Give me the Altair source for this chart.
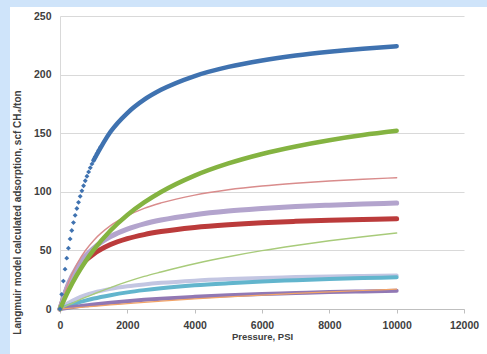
import altair as alt
import pandas as pd

# Pressure grid (psi) shared by the adsorption curves
pressure = [0, 250, 500, 750, 1000, 1500, 2000, 2500, 3000, 4000, 5000,
            6000, 7000, 8000, 9000, 10000]

# Calculated adsorption, scf CH4/ton, one list per sample
blue = [0, 51.9, 85.7, 109.4, 126.9, 151.2, 167.2, 178.6, 187.0, 198.8,
        206.6, 212.1, 216.3, 219.5, 222.1, 224.2]
green = [0, 15.6, 28.9, 40.4, 50.4, 67.0, 80.2, 90.9, 99.8, 113.8, 124.2,
         132.3, 138.7, 144.0, 148.4, 152.0]
pink = [0, 22.6, 38.2, 49.7, 58.5, 71.1, 79.6, 85.9, 90.5, 97.2, 101.7,
        104.9, 107.3, 109.2, 110.7, 112.0]
lilac = [0, 21.5, 35.4, 45.0, 52.0, 61.7, 68.1, 72.6, 75.9, 80.5, 83.6,
         85.7, 87.4, 88.6, 89.6, 90.4]
red = [0, 20.5, 32.8, 41.1, 47.0, 55.0, 60.0, 63.5, 66.1, 69.6, 71.9,
       73.6, 74.8, 75.7, 76.4, 77.0]
lime = [0, 3.5, 6.8, 9.9, 12.8, 18.3, 23.3, 27.8, 31.6, 38.6, 44.6, 49.8,
        54.2, 58.2, 61.7, 64.8]
lavender = [0, 5.2, 9.0, 11.8, 14.0, 17.2, 19.4, 21.0, 22.3, 24.2, 25.5,
            26.5, 27.2, 27.8, 28.2, 28.6]
cyan = [0, 2.7, 5.1, 7.1, 8.9, 11.8, 14.2, 16.1, 17.7, 20.2, 22.0, 23.5,
        24.6, 25.6, 26.4, 27.0]
purple = [0, 1.1, 2.1, 3.1, 3.9, 5.4, 6.7, 7.8, 8.8, 10.4, 11.7, 12.8,
          13.6, 14.4, 15.0, 15.6]
orange = [0, 0.5, 1.1, 1.7, 2.3, 3.5, 4.6, 5.7, 6.7, 8.6, 10.3, 11.9,
          13.3, 14.6, 15.8, 16.9]

# Individual diamond markers of the first sample at low pressure
blue_low_p = [0, 50, 100, 150, 200, 250, 300, 350, 400, 450, 500, 550, 600,
              650, 700, 750, 800, 850, 900, 950, 1000, 1050, 1100, 1150, 1200]
blue_low_v = [0, 12.5, 23.8, 34.0, 43.4, 51.9, 59.8, 67.0, 73.7, 79.9, 85.7,
              91.0, 96.1, 100.8, 105.2, 109.4, 113.3, 117.0, 120.5, 123.8,
              126.9, 129.9, 132.7, 135.5, 138.0]

x_ticks = [0, 2000, 4000, 6000, 8000, 10000, 12000]
y_ticks = [0, 50, 100, 150, 200, 250]

FONT = "Liberation Sans"
TEXT = "#404040"

x_enc = alt.X(
    "pressure:Q",
    scale=alt.Scale(domain=[0, 12000], nice=False),
    axis=alt.Axis(values=x_ticks, format="d", labelFlush=False,
                  title="Pressure, PSI", grid=False,
                  domainColor="#bfbfbf", tickColor="#bfbfbf", tickSize=4,
                  labelFont=FONT, labelFontSize=10.5, labelFontWeight="bold",
                  labelColor=TEXT, labelPadding=7, titleFont=FONT,
                  titleFontSize=9.5, titleFontWeight="bold", titleColor=TEXT,
                  titlePadding=1),
)
y_enc = alt.Y(
    "value:Q",
    scale=alt.Scale(domain=[0, 250], nice=False),
    axis=alt.Axis(values=y_ticks, labelFlush=False,
                  title="Langmuir model calculated adsorption, scf CH₄/ton",
                  grid=True, gridColor="#d9d9d9", domainColor="#d9d9d9",
                  ticks=False, labelFont=FONT, labelFontSize=10.5,
                  labelFontWeight="bold", labelColor=TEXT, labelPadding=9,
                  titleFont=FONT, titleFontSize=10, titleFontWeight="bold",
                  titleColor=TEXT, titleX=-38, titleY=196),
)

# (values, colour, stroke width) in drawing order
series = [
    (lavender, "#c3c6e2", 4.0),
    (cyan, "#62b5cd", 4.0),
    (purple, "#9178b4", 4.0),
    (orange, "#f2a468", 1.2),
    (lime, "#a8cb7a", 1.4),
    (red, "#bb3b3b", 5.0),
    (lilac, "#b3a4cd", 5.0),
    (pink, "#d98c8c", 1.4),
    (green, "#84b341", 4.5),
]

layers = []

# Blue frame strips along the left and top edges
frame = pd.DataFrame({"k": [0]})
layers.append(alt.Chart(frame).mark_rect(color="#cfe4fa").encode(
    x=alt.value(-60), x2=alt.value(-50), y=alt.value(-16), y2=alt.value(338)))
layers.append(alt.Chart(frame).mark_rect(color="#cfe4fa").encode(
    x=alt.value(-60), x2=alt.value(427), y=alt.value(-16), y2=alt.value(-9)))

for vals, col, sw in series:
    df = pd.DataFrame({"pressure": pressure, "value": vals})
    layers.append(
        alt.Chart(df).mark_line(color=col, strokeWidth=sw,
                                interpolate="monotone", strokeCap="round")
        .encode(x=x_enc, y=y_enc)
    )

blue_df = pd.DataFrame({"pressure": pressure, "value": blue})
layers.append(
    alt.Chart(blue_df).transform_filter(alt.datum.pressure >= 1000)
    .mark_line(color="#3f72b0", strokeWidth=4.5, interpolate="monotone",
               strokeCap="round")
    .encode(x=x_enc, y=y_enc)
)
blue_low_df = pd.DataFrame({"pressure": blue_low_p, "value": blue_low_v})
layers.append(
    alt.Chart(blue_low_df).mark_point(shape="diamond", filled=True,
                                      color="#3f72b0", size=24, opacity=1)
    .encode(x=x_enc, y=y_enc)
)

chart = alt.layer(*layers).properties(
    width=404,
    height=293,
    padding={"left": 60, "top": 16, "right": 23, "bottom": 45},
    autosize=alt.AutoSizeParams(type="none"),
    background="white",
).configure_view(stroke=None)

chart.save("out.html", embed_options={"renderer": "svg", "actions": False})
